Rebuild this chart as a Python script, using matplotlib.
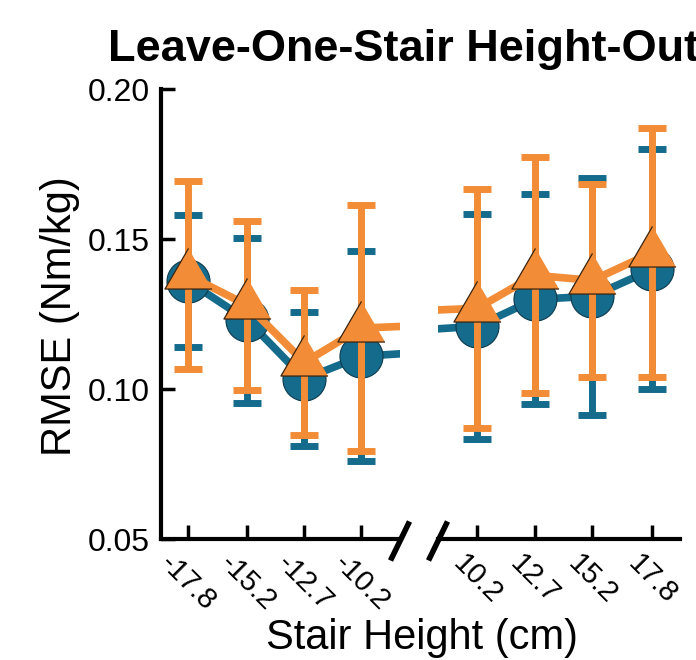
import matplotlib
matplotlib.use('Agg')
import matplotlib.pyplot as plt
from matplotlib.lines import Line2D

plt.rcParams['font.family'] = ['Liberation Sans', 'DejaVu Sans']

# stair heights (cm) and their tick labels
heights = [-17.8, -15.2, -12.7, -10.2, 10.2, 12.7, 15.2, 17.8]
tick_labels = ['-17.8', '-15.2', '-12.7', '-10.2', '10.2', '12.7', '15.2', '17.8']

# blue series (circles)
blue_mean = [0.136, 0.123, 0.1035, 0.111, 0.121, 0.130, 0.131, 0.140]
blue_err = [0.022, 0.0274, 0.0224, 0.035, 0.0375, 0.035, 0.0396, 0.040]

# orange series (triangles)
orange_mean = [0.138, 0.128, 0.109, 0.1204, 0.127, 0.138, 0.1363, 0.1456]
orange_err = [0.0313, 0.0282, 0.0242, 0.041, 0.0399, 0.0393, 0.0321, 0.0414]

blue = '#156b8c'
orange = '#f28c36'

# triangle marker centred on its centroid
tri = [(0, 1), (-0.87, -0.5), (0.87, -0.5)]

W, H = 696, 660
fig = plt.figure(figsize=(W / 100, H / 100), dpi=100)
bottom = (H - 539.3) / H
height = 450 / H
ax1 = fig.add_axes([161 / W, bottom, (400 - 161) / W, height])
ax2 = fig.add_axes([438 / W, bottom, (680 - 438) / W, height], sharey=ax1)


def draw(ax):
    ax.errorbar(heights, blue_mean, yerr=blue_err, fmt='none', ecolor=blue,
                elinewidth=5, capsize=10, capthick=5, zorder=2)
    ax.plot(heights, blue_mean, color=blue, lw=5.5, zorder=2.1)
    ax.plot(heights, blue_mean, 'o', ms=31, mfc=blue, mec='#0d3a4c', mew=0.8,
            zorder=2.2)
    ax.errorbar(heights, orange_mean, yerr=orange_err, fmt='none', ecolor=orange,
                elinewidth=5, capsize=10, capthick=5, zorder=3)
    ax.plot(heights, orange_mean, color=orange, lw=5.5, zorder=3.1)
    ax.plot(heights, orange_mean, ls='none', marker=tri, ms=39, mfc=orange,
            mec='#3a2410', mew=0.9, zorder=3.2)
    ax.set_xticks(heights)
    ax.set_xticklabels(tick_labels, rotation=-45, ha='center', fontsize=21)
    ax.tick_params(axis='x', direction='in', length=10, width=2.5, pad=7)
    ax.spines['top'].set_visible(False)
    ax.spines['right'].set_visible(False)
    ax.spines['bottom'].set_linewidth(3)


draw(ax1)
draw(ax2)

ax1.set_xlim(-19, -8.5)
ax2.set_xlim(8.5, 19)
ax1.set_ylim(0.05, 0.20)
ax1.set_yticks([0.05, 0.10, 0.15, 0.20])
ax1.set_yticklabels(['0.05', '0.10', '0.15', '0.20'])
ax1.tick_params(axis='y', direction='in', length=10, width=2.5, pad=8, labelsize=23)
ax1.spines['left'].set_linewidth(3)
ax2.spines['left'].set_visible(False)
ax2.tick_params(axis='y', left=False, labelleft=False)

# axis break marks
for cx in [400, 438]:
    fig.add_artist(Line2D([(cx - 9.5) / W, (cx + 9.5) / W],
                          [(H - 560.5) / H, (H - 521.5) / H],
                          transform=fig.transFigure, color='black', lw=4,
                          solid_capstyle='butt'))

fig.text(60 / W, 1 - 316 / H, 'RMSE (Nm/kg)', rotation=90, ha='center',
         va='center', fontsize=30)
fig.text(422 / W, 1 - 649 / H, 'Stair Height (cm)', ha='center',
         va='baseline', fontsize=30)
fig.text(108 / W, 1 - 61 / H, 'Leave-One-Stair Height-Out', ha='left',
         va='baseline', fontsize=32.5, fontweight='bold')

fig.savefig('out.png', dpi=100)
